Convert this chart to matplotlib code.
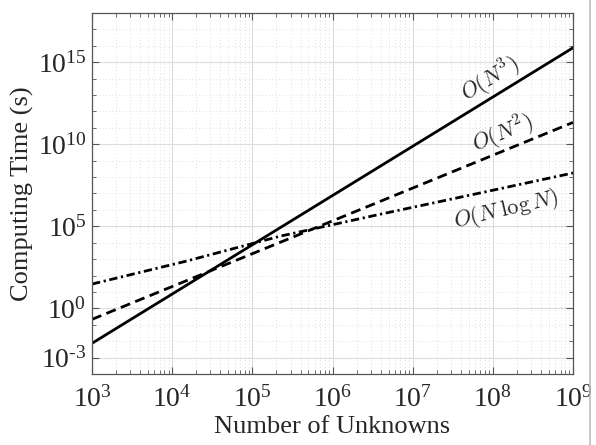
import matplotlib
matplotlib.use('Agg')
import matplotlib.pyplot as plt
from matplotlib.lines import Line2D
from matplotlib.ticker import LogLocator, FixedLocator, NullFormatter

plt.rcParams['font.family'] = ['Liberation Serif', 'DejaVu Serif']
plt.rcParams['mathtext.fontset'] = 'custom'
plt.rcParams['mathtext.rm'] = 'Liberation Serif'
plt.rcParams['mathtext.it'] = 'Liberation Serif:italic'

# values
n_cubic = [1e3, 1e9]
t_cubic = [10**-2.13, 10**15.88]

n_square = [1e3, 1e9]
t_square = [10**-0.67, 10**11.33]

n_nlogn = [1e3, 10**4.17, 10**5.34, 10**6.59, 10**7.84, 1e9]
t_nlogn = [10**1.48, 10**2.87, 10**4.39, 10**5.73, 10**7.03, 10**8.25]

y_major = [-3, 0, 5, 10, 15]
x_major = [3, 4, 5, 6, 7, 8, 9]

TXT = '#262626'


def exp_label(e):
    s = r'\text{-}%d' % -e if e < 0 else '%d' % e
    return r'$\mathregular{10^{%s}}$' % s


fig = plt.figure(figsize=(5.96, 4.45), dpi=100)
ax = fig.add_axes([0.1544, 0.1596, 0.8070, 0.8112])

ax.loglog(n_cubic, t_cubic, color='black', lw=2.0, ls='-')
ax.loglog(n_square, t_square, color='black', lw=2.0, ls=(0, (3.6, 2.0)))
ax.loglog(n_nlogn, t_nlogn, color='black', lw=2.0, ls=(0, (3.0, 1.3, 0.8, 1.3)))

ax.set_xlim(1e3, 1e9)
ax.set_ylim(1e-4, 1e18)

ax.xaxis.set_major_locator(FixedLocator([10.0**e for e in x_major]))
ax.xaxis.set_minor_locator(LogLocator(base=10, subs=range(2, 10), numticks=20))
ax.set_xticklabels([exp_label(e) for e in x_major])
ax.xaxis.set_minor_formatter(NullFormatter())

ax.yaxis.set_major_locator(FixedLocator([10.0**e for e in y_major]))
ax.yaxis.set_minor_locator(FixedLocator([10.0**e for e in range(-4, 19)]))
ax.set_yticklabels([exp_label(e) for e in y_major])
ax.yaxis.set_minor_formatter(NullFormatter())

ax.grid(True, which='major', color='#dcdcdc', lw=0.8, ls='-')
ax.grid(True, which='minor', color='#d4d4d4', lw=0.6, ls=(0, (1, 3)))
ax.set_axisbelow(True)

ax.tick_params(which='both', direction='in', top=True, right=True,
               colors='#555555', labelcolor=TXT, labelsize=20)
ax.tick_params(axis='x', which='major', pad=9)
ax.tick_params(axis='y', which='major', pad=4)
ax.tick_params(which='major', length=5, width=0.8)
ax.tick_params(which='minor', length=3, width=0.6)
for s in ax.spines.values():
    s.set_color('#555555')
    s.set_linewidth(0.9)

ax.set_xlabel('Number of Unknowns', fontsize=19, color=TXT, labelpad=2)
ax.set_ylabel('Computing Time (s)', fontsize=19, color=TXT, labelpad=3)

ax.text(0.828, 0.815, r'$O(N^3)$', transform=ax.transAxes, fontsize=16,
        rotation=31, ha='center', va='center', color=TXT, math_fontfamily='cm')
ax.text(0.855, 0.665, r'$O(N^2)$', transform=ax.transAxes, fontsize=16,
        rotation=22, ha='center', va='center', color=TXT, math_fontfamily='cm')
ax.text(0.860, 0.455, r'$O(N\;\log N)$', transform=ax.transAxes, fontsize=16,
        rotation=13, ha='center', va='center', color=TXT, math_fontfamily='cm')

fig.add_artist(Line2D([590 / 596, 590 / 596], [0, 1], color='#bdbdbd', lw=1.2))

fig.savefig('out.png', dpi=100)
